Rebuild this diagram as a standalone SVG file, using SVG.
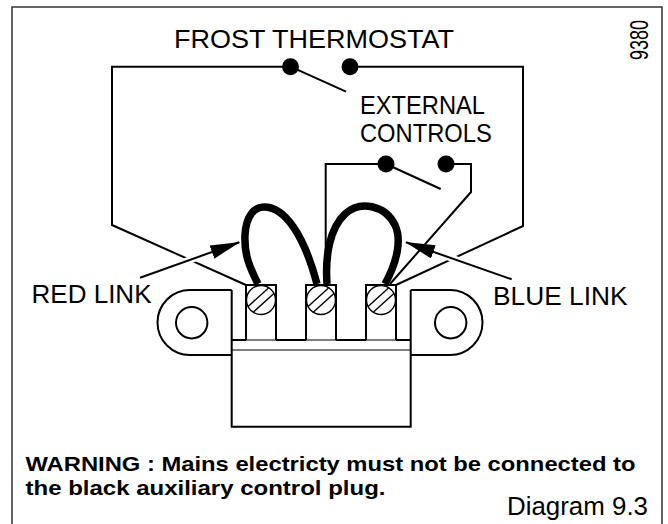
<svg xmlns="http://www.w3.org/2000/svg" width="668" height="524" viewBox="0 0 668 524">
<style>
.w{fill:none;stroke:#000;stroke-width:2;stroke-linejoin:miter}
.thin{fill:none;stroke:#000;stroke-width:1.2}
.link{fill:none;stroke:#000;stroke-width:7.5;stroke-linecap:butt}
.dot{fill:#000}
.lbl{font-family:"Liberation Sans",Arial,sans-serif;font-size:25px;fill:#000}
.warn{font-family:"Liberation Sans",Arial,sans-serif;font-size:21px;font-weight:bold;fill:#000}
.halo{fill:none;stroke:#fff;stroke-width:7}
.arr{fill:none;stroke:#000;stroke-width:2}
</style>
<defs>
<marker id="ah" viewBox="0 0 30 14" refX="29" refY="7" markerWidth="30" markerHeight="14" markerUnits="userSpaceOnUse" orient="auto">
<path d="M0,0 L30,7 L0,14 Z" fill="#000"/>
</marker>
<g id="screw">
<circle cx="0" cy="0" r="14.5" fill="#fff" stroke="#000" stroke-width="1.4"/>
<line x1="-12.9" y1="6.4" x2="7.5" y2="-12" stroke="#000" stroke-width="1.4"/>
<line x1="-7.5" y1="12" x2="12.9" y2="-6.4" stroke="#000" stroke-width="1.4"/>
</g>
</defs>
<rect x="12" y="7" width="650" height="530" fill="#fff" stroke="#333" stroke-width="1.5"/>

<g id="connectors">
<polyline class="w" points="246,285 112,225 112,66.7 290,66.7"/>
<polyline class="w" points="350,66.7 523,66.7 523,226 396,285"/>
<line class="w" x1="290.5" y1="66.7" x2="346" y2="91.7"/>
<polyline class="w" points="386,164 325.7,164 325.7,284"/>
<polyline class="w" points="446,164 471,164 471,192 390,284"/>
<line class="w" x1="386" y1="164" x2="440.7" y2="189"/>
<line class="halo" x1="140" y1="277.7" x2="225" y2="247.3"/>
<line class="arr" x1="140" y1="277.7" x2="239.3" y2="242.3" marker-end="url(#ah)"/>
<line class="halo" x1="511.7" y1="279.3" x2="420" y2="247"/>
<line class="arr" x1="511.7" y1="279.3" x2="406" y2="242.3" marker-end="url(#ah)"/>
</g>

<g id="frost-thermostat">
<circle class="dot" cx="290.5" cy="66.7" r="8.5"/>
<circle class="dot" cx="350" cy="66.7" r="8.5"/>
<text class="lbl" x="174" y="48.3" textLength="280" lengthAdjust="spacingAndGlyphs">FROST THERMOSTAT</text>
</g>

<g id="external-controls">
<circle class="dot" cx="386" cy="164" r="8.5"/>
<circle class="dot" cx="446" cy="164" r="8.5"/>
<text class="lbl" x="360" y="114.3" font-size="24" textLength="125" lengthAdjust="spacingAndGlyphs">EXTERNAL</text>
<text class="lbl" x="360" y="141.7" font-size="24" textLength="131.7" lengthAdjust="spacingAndGlyphs">CONTROLS</text>
</g>

<g id="plug">
<path class="w" d="M231.7,290 H190 A32.5,32.5 0 0 0 190,355 H231.7"/>
<path class="w" d="M410.7,290 H450 A32.5,32.5 0 0 1 450,355 H410.7"/>
<circle class="w" cx="191.7" cy="322.7" r="15.7"/>
<circle class="w" cx="450.7" cy="322.7" r="15.7"/>
<path class="w" d="M231.7,290 V426.7 H410.7 V290"/>
<line class="thin" x1="231.7" y1="350" x2="410.7" y2="350"/>
<line class="thin" x1="231.7" y1="340" x2="410.7" y2="340"/>
<path class="w" d="M231.7,340 H246 M276,340 H306 M336,340 H366 M396,340 H410.7"/>
<path class="w" d="M246,340 V285 H276 V340"/>
<path class="w" d="M306,340 V285 H336 V340"/>
<path class="w" d="M366,340 V285 H396 V340"/>
<use href="#screw" x="261" y="300"/>
<use href="#screw" x="321" y="300"/>
<use href="#screw" x="381" y="300"/>
</g>

<g id="red-link">
<path class="link" d="M258,284 C250,268 244,255 245,235 C246,215 255,207 264,207 C285,207 304,235 317,284"/>
<text class="lbl" x="31.5" y="302.5" textLength="120" lengthAdjust="spacingAndGlyphs">RED LINK</text>
</g>

<g id="blue-link">
<path class="link" d="M327,284 C325,255 330,228 345,214 C360,200 385,205 395,225 C402,240 397,262 385,284"/>
<text class="lbl" x="493" y="305.3" textLength="134.5" lengthAdjust="spacingAndGlyphs">BLUE LINK</text>
</g>

<g id="notes">
<text class="warn" x="25.5" y="471" textLength="610" lengthAdjust="spacingAndGlyphs">WARNING : Mains electricty must not be connected to</text>
<text class="warn" x="25.5" y="494.5" textLength="360" lengthAdjust="spacingAndGlyphs">the black auxiliary control plug.</text>
<text class="lbl" x="507" y="515" font-size="24" textLength="141" lengthAdjust="spacingAndGlyphs">Diagram 9.3</text>
<text class="lbl" x="648" y="60" font-size="18" transform="rotate(-90 648 60)" textLength="40" lengthAdjust="spacingAndGlyphs">9380</text>
</g>
</svg>
